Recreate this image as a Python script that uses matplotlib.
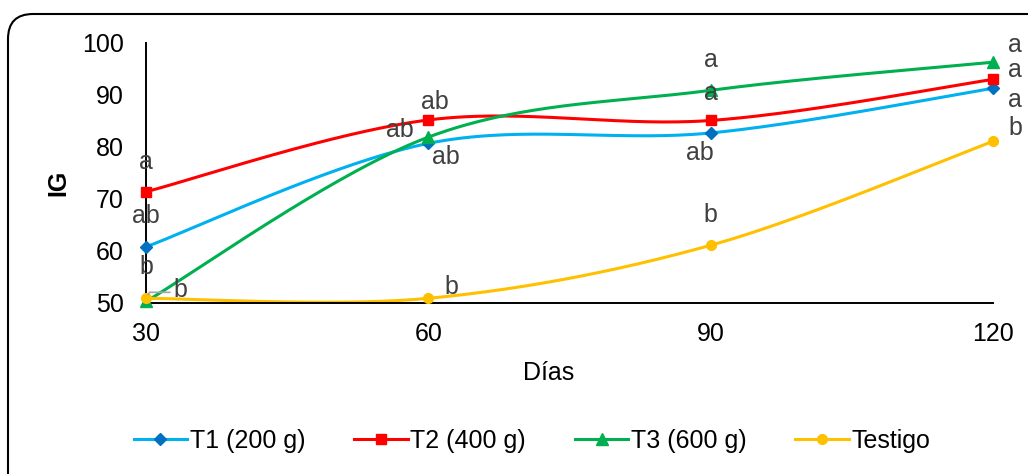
#!/usr/bin/env python3
"""IG por tratamiento a lo largo de los días (estilo Excel, líneas suavizadas)."""

import matplotlib
matplotlib.use("Agg")
import matplotlib.pyplot as plt
import numpy as np
from matplotlib.patches import FancyBboxPatch

plt.rcParams["font.family"] = ["Liberation Sans", "DejaVu Sans"]

dias = [30, 60, 90, 120]
t1 = [60.8, 80.7, 82.7, 91.3]
t2 = [71.4, 85.2, 85.1, 93.0]
t3 = [50.3, 81.9, 90.9, 96.3]
testigo = [50.9, 50.9, 61.1, 81.1]

letras_t1 = ["ab", "ab", "ab", "a"]
letras_t2 = ["a", "ab", "a", "a"]
letras_t3 = ["b", "ab", "a", "a"]
letras_testigo = ["b", "b", "b", "b"]

nombres = ["T1 (200 g)", "T2 (400 g)", "T3 (600 g)", "Testigo"]
lineas = ["#00B0F0", "#FF0000", "#00B050", "#FFC000"]
marcas_color = ["#0070C0", "#FF0000", "#00B050", "#FFC000"]
marcas = ["D", "s", "^", "o"]
tam_marca = [6, 7, 8, 7]

# offsets (px) of each data label relative to its point
offs_t1 = [(0, 31), (18, -14), (-11, -20), (22, -12)]
offs_t2 = [(0, 30), (7, 18), (0, 27), (22, 9)]
offs_t3 = [(0, 34), (-28, 7), (0, 30), (22, 17)]
offs_testigo = [(34, 8), (23, 11), (0, 30), (22, 13)]

FS = 18


def smooth(xs, ys, n=60):
    # Excel-like smoothed line: cubic bezier with catmull-rom control points
    p = np.column_stack([xs, ys]).astype(float)
    out = []
    for i in range(len(p) - 1):
        p0 = p[i - 1] if i > 0 else p[i]
        p1, p2 = p[i], p[i + 1]
        p3 = p[i + 2] if i + 2 < len(p) else p[i + 1]
        c1 = p1 + (p2 - p0) / 6
        c2 = p2 - (p3 - p1) / 6
        t = np.linspace(0, 1, n)[:, None]
        seg = ((1 - t) ** 3) * p1 + 3 * ((1 - t) ** 2) * t * c1 + 3 * (1 - t) * t ** 2 * c2 + t ** 3 * p2
        out.append(seg if i == 0 else seg[1:])
    s = np.vstack(out)
    return s[:, 0], s[:, 1]


fig = plt.figure(figsize=(10.28, 4.74), dpi=100)
ax = fig.add_axes([146 / 1028, 1 - 303 / 474, (993 - 146) / 1028, (303 - 43) / 474])

series = [t1, t2, t3, testigo]
letras = [letras_t1, letras_t2, letras_t3, letras_testigo]
offs = [offs_t1, offs_t2, offs_t3, offs_testigo]

handles = []
for k, ys in enumerate(series):
    sx, sy = smooth(dias, ys)
    ax.plot(sx, sy, color=lineas[k], lw=2.2, zorder=2, clip_on=False)
    ax.plot(dias, ys, ls="none", marker=marcas[k], ms=tam_marca[k],
            color=marcas_color[k], zorder=3, clip_on=False)
    h, = ax.plot([], [], color=lineas[k], lw=2.2, marker=marcas[k],
                 ms=tam_marca[k], mfc=marcas_color[k], mec=marcas_color[k])
    handles.append(h)

for k, ys in enumerate(series):
    for i, x in enumerate(dias):
        dx, dy = offs[k][i]
        ax.annotate(letras[k][i], (x, ys[i]), xytext=(dx, dy),
                    textcoords="offset pixels", ha="center", va="center",
                    fontsize=FS, color="#404040", zorder=4, annotation_clip=False)

# leader line for the first Testigo label
ax.annotate("", xy=(dias[0], testigo[0]), xytext=(24, 6), textcoords="offset pixels",
            arrowprops=dict(arrowstyle="-", color="#A6A6A6", lw=1.2, shrinkA=0, shrinkB=3,
                            connectionstyle="angle,angleA=0,angleB=60,rad=0"),
            annotation_clip=False)

ax.set_xlim(30, 120)
ax.set_ylim(50, 100)
ax.set_xticks(dias)
ax.set_yticks([50, 60, 70, 80, 90, 100])
ax.tick_params(length=0, labelsize=FS)
ax.tick_params(axis="x", pad=14)
ax.tick_params(axis="y", pad=16)
for s in ["top", "right"]:
    ax.spines[s].set_visible(False)
for s in ["left", "bottom"]:
    ax.spines[s].set_linewidth(1.4)
    ax.spines[s].set_color("black")
ax.patch.set_alpha(0)

fig.text(549 / 1028, 1 - 373 / 474, "Días", ha="center", va="center", fontsize=FS)
fig.text(58 / 1028, 1 - 183 / 474, "IG", ha="center", va="center", fontsize=FS,
         fontweight="bold", rotation=90)

fig.legend(handles, nombres, loc="center", bbox_to_anchor=(532 / 1028, 1 - 441 / 474),
           ncol=4, frameon=False, fontsize=FS, handlelength=2.15, handletextpad=0.1,
           columnspacing=1.95)

frame = FancyBboxPatch((8, -40), 1100, 474 - 14 + 40, boxstyle="round,pad=0,rounding_size=25",
                       transform=None, fill=False, ec="black", lw=1.5, clip_on=False)
fig.patches.append(frame)

fig.savefig("out.png", dpi=100)
